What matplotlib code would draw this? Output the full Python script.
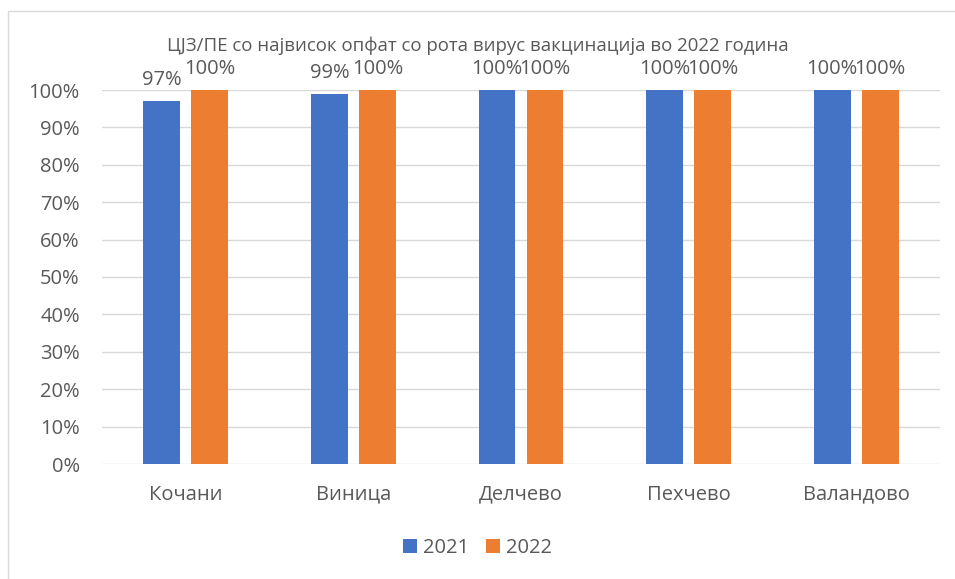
import matplotlib.pyplot as plt
from matplotlib.patches import Rectangle
import numpy as np

plt.rcParams['font.family'] = ['Open Sans', 'DejaVu Sans']

categories = ['Кочани', 'Виница', 'Делчево', 'Пехчево', 'Валандово']
series_names = ['2021', '2022']
values_2021 = [0.97, 0.99, 1.00, 1.00, 1.00]
values_2022 = [1.00, 1.00, 1.00, 1.00, 1.00]
yticks = np.arange(0, 1.01, 0.1)
title = 'ЦЈЗ/ПЕ со највисок опфат со рота вирус вакцинација во 2022 година'

blue = '#4472C4'
orange = '#ED7D31'
txt = '#595959'

fig = plt.figure(figsize=(9.55, 5.79), dpi=100)
# chart area border
fig.patches.append(Rectangle((8 / 955, -0.01), 1.0, 1 - 11 / 579 + 0.01,
                             transform=fig.transFigure, fill=False,
                             edgecolor='#d9d9d9', linewidth=1))

ax = fig.add_axes([102 / 955, 1 - 464 / 579, 838 / 955, 374 / 579])
x = np.arange(len(categories))
w = 0.22
off = 24 / 167.6
b1 = ax.bar(x - off, values_2021, w, color=blue, label=series_names[0], zorder=3)
b2 = ax.bar(x + off, values_2022, w, color=orange, label=series_names[1], zorder=3)

for bars in (b1, b2):
    for r in bars:
        ax.annotate(f'{r.get_height() * 100:.0f}%',
                    (r.get_x() + r.get_width() / 2, r.get_height()),
                    xytext=(0, 8), textcoords='offset points',
                    ha='center', va='bottom', fontsize=14.5, color=txt)

ax.set_xlim(-0.5, len(categories) - 0.5)
ax.set_ylim(0, 1.0)
ax.set_yticks(yticks)
ax.set_yticklabels([f'{v * 100:.0f}%' for v in yticks])
ax.set_xticks(x)
ax.set_xticklabels(categories)
ax.tick_params(axis='both', length=0, labelsize=14.5, colors=txt)
ax.tick_params(axis='x', pad=15)
ax.tick_params(axis='y', pad=16)
ax.grid(axis='y', color='#d9d9d9', linewidth=1, zorder=0)
for s in ax.spines.values():
    s.set_visible(False)

fig.text(0.5, 1 - 46 / 579, title, ha='center', va='center', fontsize=13.4, color=txt)

fig.legend(handles=[b1, b2], loc='center', bbox_to_anchor=(0.5, 1 - 548 / 579),
           ncol=2, frameon=False, fontsize=14.5, labelcolor=txt,
           handlelength=0.7, handleheight=0.7, handletextpad=0.3, columnspacing=0.85)

fig.savefig('out.png', dpi=100)
